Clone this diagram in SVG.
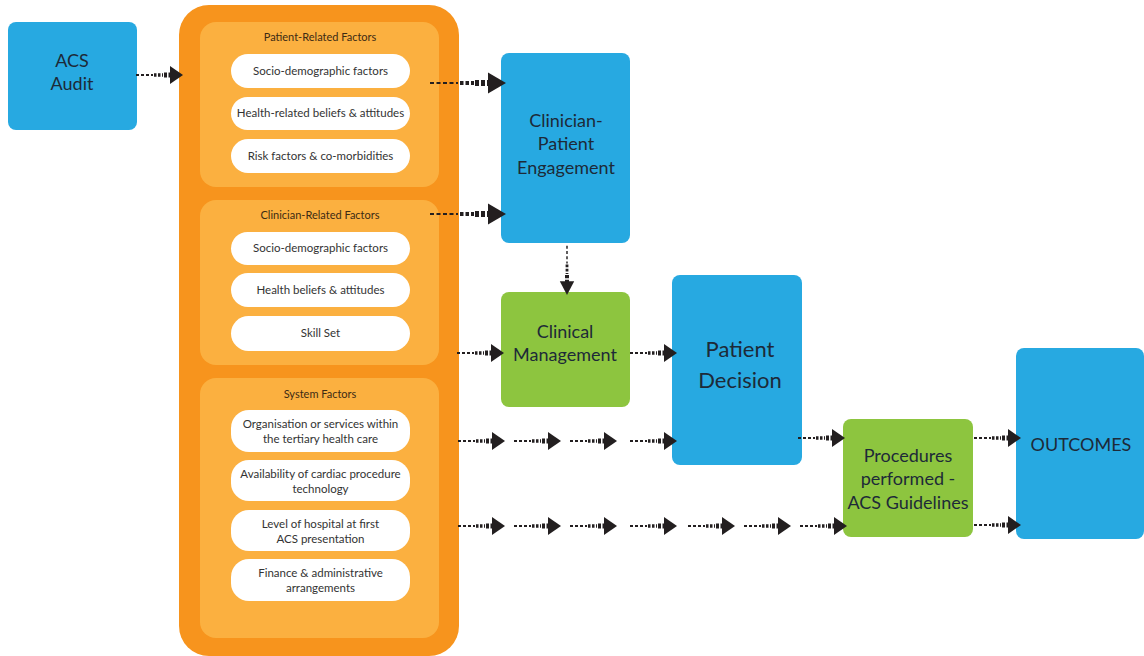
<svg xmlns="http://www.w3.org/2000/svg" xmlns:xlink="http://www.w3.org/1999/xlink" width="1144" height="656" viewBox="0 0 1144 656">
<style>
.blue{fill:#27a9e1}
.green{fill:#8dc53f}
.outer{fill:#f7941d}
.panel{fill:#fbb040}
.pill{fill:#ffffff}
.t{font-family:Lato,"Open Sans","Liberation Sans",sans-serif;fill:#1d2a38;text-anchor:middle}
.big{font-size:18px}
.pd{font-size:22px}
.hd{font-size:11px;fill:#3d2b14}
.pt{font-size:11.5px;fill:#333333}
.ln{fill:none;stroke:#231f20}
.tri{fill:#231f20}
</style>
<defs>
<g id="arrS">
<path class="ln" d="M-47 0 H-30" stroke-width="1.8" stroke-dasharray="3 2"/>
<path class="ln" d="M-29 0 H-20" stroke-width="3.5" stroke-dasharray="2.5 1.5"/>
<path class="ln" d="M-19 0 H-12" stroke-width="5" stroke-dasharray="3 1.5"/>
<path class="tri" d="M-13 -9 L0 0 L-13 9 Z"/>
</g>
<g id="arrL">
<path class="ln" d="M-76 0 H-48" stroke-width="2" stroke-dasharray="4 2.5"/>
<path class="ln" d="M-46 0 H-32" stroke-width="4" stroke-dasharray="3.5 2"/>
<path class="ln" d="M-31 0 H-17" stroke-width="6" stroke-dasharray="4 2"/>
<path class="tri" d="M-18 -10.5 L0 0 L-18 10.5 Z"/>
</g>
</defs>
<rect width="1144" height="656" fill="#ffffff"/>

<g id="acs-audit">
<rect class="blue" x="8" y="22" width="129" height="108" rx="8"/>
<text class="t big" x="72" y="67">ACS</text>
<text class="t big" x="72" y="90">Audit</text>
</g>

<g id="factors">
<path class="outer" d="M209 5 H429 A30 30 0 0 1 459 35 V626 A30 30 0 0 1 429 656 H209 A30 30 0 0 1 179 626 V35 A30 30 0 0 1 209 5 Z"/>
</g>

<g id="patient-factors">
<rect class="panel" x="200" y="22" width="239" height="165" rx="16"/>
<text class="t hd" x="320" y="41">Patient-Related Factors</text>
<rect class="pill" x="231" y="54" width="179" height="34" rx="17"/>
<text class="t pt" x="320.5" y="75">Socio-demographic factors</text>
<rect class="pill" x="231" y="97" width="179" height="33" rx="16.5"/>
<text class="t pt" x="320.5" y="117">Health-related beliefs &amp; attitudes</text>
<rect class="pill" x="231" y="139" width="179" height="34" rx="17"/>
<text class="t pt" x="320.5" y="160">Risk factors &amp; co-morbidities</text>
</g>

<g id="clinician-factors">
<rect class="panel" x="200" y="200" width="239" height="165" rx="16"/>
<text class="t hd" x="320" y="219">Clinician-Related Factors</text>
<rect class="pill" x="231" y="232" width="179" height="33" rx="16.5"/>
<text class="t pt" x="320.5" y="252">Socio-demographic factors</text>
<rect class="pill" x="231" y="273" width="179" height="34" rx="17"/>
<text class="t pt" x="320.5" y="294">Health beliefs &amp; attitudes</text>
<rect class="pill" x="231" y="316" width="179" height="35" rx="17.5"/>
<text class="t pt" x="320.5" y="337">Skill Set</text>
</g>

<g id="system-factors">
<rect class="panel" x="200" y="378" width="239" height="260" rx="16"/>
<text class="t hd" x="320" y="398">System Factors</text>
<rect class="pill" x="231" y="410" width="179" height="42" rx="18"/>
<text class="t pt" x="320.5" y="428">Organisation or services within</text>
<text class="t pt" x="320.5" y="443">the tertiary health care</text>
<rect class="pill" x="231" y="460" width="179" height="41" rx="18"/>
<text class="t pt" x="320.5" y="478">Availability of cardiac procedure</text>
<text class="t pt" x="320.5" y="493">technology</text>
<rect class="pill" x="231" y="510" width="179" height="41" rx="18"/>
<text class="t pt" x="320.5" y="528">Level of hospital at first</text>
<text class="t pt" x="320.5" y="543">ACS presentation</text>
<rect class="pill" x="231" y="559" width="179" height="42" rx="18"/>
<text class="t pt" x="320.5" y="577">Finance &amp; administrative</text>
<text class="t pt" x="320.5" y="592">arrangements</text>
</g>

<g id="clinician-patient-engagement">
<rect class="blue" x="501" y="53" width="129" height="190" rx="8"/>
<text class="t big" x="566" y="127">Clinician-</text>
<text class="t big" x="566" y="150">Patient</text>
<text class="t big" x="566" y="174">Engagement</text>
</g>

<g id="clinical-management">
<rect class="green" x="501" y="292" width="129" height="115" rx="8"/>
<text class="t big" x="565" y="338">Clinical</text>
<text class="t big" x="565" y="361">Management</text>
</g>

<g id="patient-decision">
<rect class="blue" x="672" y="275" width="130" height="190" rx="8"/>
<text class="t pd" x="740" y="357">Patient</text>
<text class="t pd" x="740" y="388">Decision</text>
</g>

<g id="procedures">
<rect class="green" x="843" y="419" width="130" height="118" rx="8"/>
<text class="t big" x="908" y="462">Procedures</text>
<text class="t big" x="908" y="485">performed -</text>
<text class="t big" x="908" y="509">ACS Guidelines</text>
</g>

<g id="outcomes">
<rect class="blue" x="1016" y="348" width="128" height="191" rx="8"/>
<text class="t big" x="1081" y="451">OUTCOMES</text>
</g>

<g id="connectors">
<use xlink:href="#arrS" transform="translate(183,75)"/>
<use xlink:href="#arrL" transform="translate(506,83)"/>
<use xlink:href="#arrL" transform="translate(506,214)"/>
<use xlink:href="#arrS" transform="translate(567,295) rotate(90) scale(1.05,0.8)"/>
<use xlink:href="#arrS" transform="translate(504,353)"/>
<use xlink:href="#arrS" transform="translate(677,353)"/>
<use xlink:href="#arrS" transform="translate(505,441)"/>
<use xlink:href="#arrS" transform="translate(561,441)"/>
<use xlink:href="#arrS" transform="translate(617,441)"/>
<use xlink:href="#arrS" transform="translate(677,441)"/>
<use xlink:href="#arrS" transform="translate(845,438)"/>
<use xlink:href="#arrS" transform="translate(505,526)"/>
<use xlink:href="#arrS" transform="translate(561,526)"/>
<use xlink:href="#arrS" transform="translate(617,526)"/>
<use xlink:href="#arrS" transform="translate(677,526)"/>
<use xlink:href="#arrS" transform="translate(735,526)"/>
<use xlink:href="#arrS" transform="translate(791,526)"/>
<use xlink:href="#arrS" transform="translate(847,526)"/>
<use xlink:href="#arrS" transform="translate(1021,438)"/>
<use xlink:href="#arrS" transform="translate(1021,525)"/>
</g>
</svg>
